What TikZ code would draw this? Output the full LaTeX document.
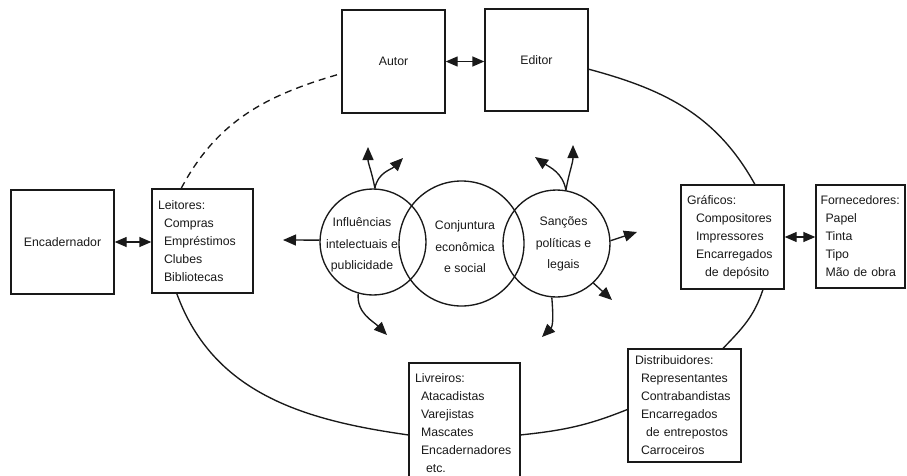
\documentclass[tikz,border=0pt]{standalone}
\usepackage{fontspec}
\setmainfont{Liberation Sans}
\usetikzlibrary{arrows.meta}

\begin{document}
\begin{tikzpicture}[x=1pt, y=1pt, line width=1.35pt, draw=black!90,
    every node/.style={font=\fontsize{12.3}{18}\selectfont, text=black!90},
    box/.style={draw, minimum width=103pt, minimum height=103pt, inner sep=0pt},
    listbox/.style={draw, align=left, inner xsep=6pt, inner ysep=0pt},
    ring/.style={circle, draw, inner sep=0pt},
    ringtext/.style={align=center, font=\fontsize{12.3}{21.5}\selectfont},
    tip/.style={-{Triangle[length=13pt, width=11pt]}},
    twoway/.style={{Triangle[length=12pt, width=10pt]}-{Triangle[length=12pt, width=10pt]}}]
    \useasboundingbox (0,0) rectangle (907,475);
    \node[box] (autor) at (393.5,413.5) {Autor};
    \node[box, minimum height=102pt] (editor) at (536.5,415) {Editor};
    \node[box, minimum height=104pt] (encad) at (62.5,233) {Encadernador};
    \node[listbox, text width=89pt, minimum height=104pt] (leit) at (202.5,234)
      {Leitores:\\\hspace*{6pt}Compras\\\hspace*{6pt}Empréstimos\\\hspace*{6pt}Clubes\\\hspace*{6pt}Bibliotecas};
    \node[listbox, text width=91pt, minimum height=104pt] (graf) at (732.5,238)
      {Gráficos:\\\hspace*{9pt}Compositores\\\hspace*{9pt}Impressores\\\hspace*{9pt}Encarregados\\\hspace*{18pt}de depósito};
    \node[listbox, inner xsep=4.5pt, text width=80pt, minimum height=103pt] (forn) at (860.5,238.5)
      {Fornecedores:\\\hspace*{5pt}Papel\\\hspace*{5pt}Tinta\\\hspace*{5pt}Tipo\\\hspace*{5pt}Mão de obra};
    \node[listbox, text width=99pt, minimum height=120pt] (livr) at (464.5,52)
      {Livreiros:\\\hspace*{6pt}Atacadistas\\\hspace*{6pt}Varejistas\\\hspace*{6pt}Mascates\\\hspace*{6pt}Encadernadores\\\hspace*{11pt}etc.};
    \node[listbox, inner xsep=7pt, text width=99pt, minimum height=113pt] (distr) at (684.5,69.5)
      {Distribuidores:\\\hspace*{6pt}Representantes\\\hspace*{6pt}Contrabandistas\\\hspace*{6pt}Encarregados\\\hspace*{11pt}de entrepostos\\\hspace*{6pt}Carroceiros};
    \node[ring, minimum size=106pt] (infl) at (373,233) {};
    \node[ring, minimum size=125pt] (conj) at (461.5,231.5) {};
    \node[ring, minimum size=107pt] (sanc) at (556.5,231.5) {};
    \node[ringtext] (infltxt) at (362,230) {Influências\\intelectuais e\\publicidade};
    \node[ringtext] (conjtxt) at (465,228) {Conjuntura\\econômica\\e social};
    \node[ringtext] (sanctxt) at (563.5,231) {Sanções\\políticas e\\legais};
    \coordinate (iu1) at (368,328);
    \coordinate (iu2) at (403,317);
    \coordinate (il) at (283,235);
    \coordinate (id) at (387,140);
    \coordinate (su1) at (573,330);
    \coordinate (su2) at (535,318);
    \coordinate (sr) at (637,243);
    \coordinate (sd) at (612,175);
    \coordinate (sb) at (542,138);
    \draw[twoway] (autor.east) -- (editor.west |- autor.east);
    \draw[twoway] (encad.east) -- (leit.west |- encad.east);
    \draw[twoway] (graf.east) -- (forn.west |- graf.east);
    \draw (editor.-10) to[out=-15, in=119] (graf.67);
    \draw (graf.-60) to[out=-108, in=46] (distr.56);
    \draw (distr.184) to[out=202, in=6] (livr.-12);
    \draw (livr.192) to[out=172, in=-70] (leit.244);
    \draw[dash pattern=on 7pt off 5pt] (leit.112) to[out=62, in=196] (autor.193);
    \draw[tip] (infl.88) to[out=100, in=-90] (iu1);
    \draw[tip] (infl.88) to[out=80, in=225] (iu2);
    \draw[tip] (infl.178) -- (il);
    \draw[tip] (infl.-106) to[out=-95, in=135] (id);
    \draw[tip] (sanc.80) to[out=80, in=-90] (su1);
    \draw[tip] (sanc.80) to[out=100, in=-35] (su2);
    \draw[tip] (sanc.3) -- (sr);
    \draw[tip] (sanc.-47) -- (sd);
    \draw[tip] (sanc.-95) to[out=-85, in=45] (sb);
  \end{tikzpicture}
\end{document}
